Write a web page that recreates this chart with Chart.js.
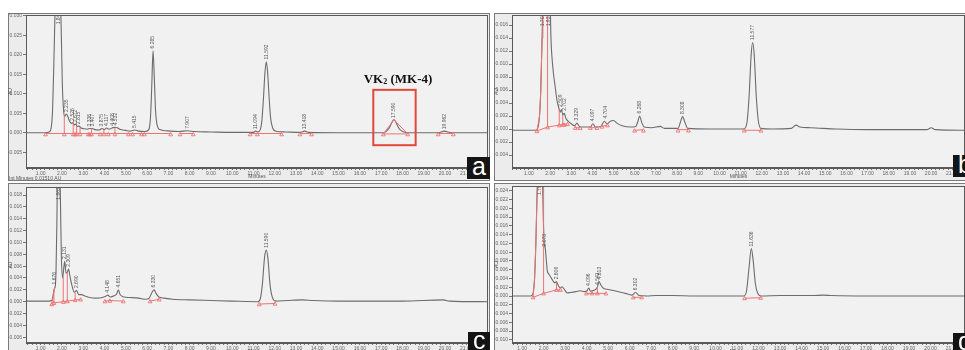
<!DOCTYPE html>
<html><head><meta charset="utf-8">
<script src="https://cdn.jsdelivr.net/npm/chart.js@4.4.1/dist/chart.umd.min.js"></script>
<style>
html,body{margin:0;padding:0;background:#fff;}
body{position:relative;width:965px;height:350px;overflow:hidden;}
.panel{position:absolute;background:#ececec;border:1px solid #7a7a7a;box-sizing:border-box;}
canvas{position:absolute;}
.tag{position:absolute;background:#141414;color:#fff;font:25px "Liberation Sans",Arial,sans-serif;line-height:19px;overflow:hidden;z-index:5;padding-left:5px;box-sizing:border-box;}
</style></head><body>
<div class="panel" style="left:8px;top:13px;width:482px;height:168px"></div>
<div class="panel" style="left:494px;top:13px;width:480px;height:168px"></div>
<div class="panel" style="left:8px;top:183px;width:482px;height:175px"></div>
<div class="panel" style="left:494px;top:183px;width:480px;height:175px"></div>
<canvas id="ca" width="498" height="176" style="left:0px;top:5px"></canvas>
<canvas id="cb" width="487" height="176" style="left:486px;top:5px"></canvas>
<canvas id="cc" width="498" height="175" style="left:0px;top:175px"></canvas>
<canvas id="cd" width="487" height="175" style="left:486px;top:175px"></canvas>
<div class="tag" style="left:467px;top:157px;width:23px;height:22px">a</div>
<div class="tag" style="left:953px;top:155px;width:20px;height:22px">b</div>
<div class="tag" style="left:468px;top:332px;width:22px;height:20px;line-height:17px">c</div>
<div class="tag" style="left:953px;top:333px;width:20px;height:20px;line-height:17px">d</div>
<script>
// ---------------- shared tick labels ----------------
const xMajorTicks = [1,2,3,4,5,6,7,8,9,10,11,12,13,14,15,16,17,18,19,20,21];
const yTicksA = [-0.005,0.000,0.005,0.010,0.015,0.020,0.025,0.030];
const yTicksB = [-0.004,-0.002,0.000,0.002,0.004,0.006,0.008,0.010,0.012,0.014,0.016];
const yTicksC = [-0.006,-0.004,-0.002,0.000,0.002,0.004,0.006,0.008,0.010,0.012,0.014,0.016,0.018];
const yTicksD = [-0.010,-0.008,-0.006,-0.004,-0.002,0.000,0.002,0.004,0.006,0.008,0.010,0.012,0.014,0.016,0.018,0.020,0.022,0.024];

// ---------------- panel a ----------------
const traceA = [[0.31,0.0000],[1.20,0.0000],[1.40,0.0002],[1.50,0.0015],[1.56,0.0060],[1.62,0.0180],[1.67,0.0300],[1.72,0.0380],[1.82,0.0400],[1.92,0.0360],[1.97,0.0250],[2.02,0.0120],[2.08,0.0055],[2.13,0.0042],[2.20,0.0048],[2.26,0.0044],[2.35,0.0030],[2.45,0.0024],[2.52,0.0026],[2.58,0.0020],[2.65,0.0022],[2.72,0.0016],[2.80,0.0017],[2.90,0.0012],[3.05,0.0010],[3.20,0.0009],[3.32,0.0011],[3.42,0.0011],[3.55,0.0008],[3.75,0.0007],[3.88,0.0011],[3.98,0.0008],[4.10,0.0012],[4.20,0.0009],[4.40,0.0013],[4.52,0.0014],[4.62,0.0012],[4.75,0.0008],[5.00,0.0006],[5.20,0.0004],[5.42,0.0007],[5.60,0.0004],[5.90,0.0003],[6.08,0.0008],[6.16,0.0040],[6.22,0.0120],[6.28,0.0210],[6.34,0.0140],[6.40,0.0055],[6.48,0.0018],[6.60,0.0008],[6.90,0.0005],[7.50,0.0003],[7.90,0.0005],[8.20,0.0003],[9.00,0.0002],[10.00,0.0001],[11.00,0.0001],[11.10,0.0004],[11.20,0.0002],[11.32,0.0008],[11.40,0.0035],[11.47,0.0090],[11.54,0.0155],[11.60,0.0182],[11.66,0.0158],[11.73,0.0095],[11.80,0.0040],[11.90,0.0012],[12.05,0.0004],[12.50,0.0002],[13.20,0.0001],[13.40,0.0004],[13.60,0.0001],[15.00,0.0000],[17.10,0.0000],[17.35,0.0010],[17.60,0.0033],[17.85,0.0010],[18.25,0.0000],[19.70,0.0000],[19.96,0.0004],[20.30,0.0000],[22.02,0.0000]];
const redPeakA = [[[17.10,-0.0003],[17.60,0.0033],[18.25,-0.0003]]];
const baseA = [[1.23,-0.0002,7.11,-0.0002],[7.55,-0.0002,8.17,-0.0002],[10.84,-0.0002,12.32,-0.0002],[13.18,-0.0002,13.73,-0.0002],[17.10,-0.0003,18.25,-0.0003],[19.68,-0.0002,20.39,-0.0002]];
const dropA = [[2.11,-0.0002,0.0045],[2.53,-0.0002,0.0026],[2.69,-0.0002,0.0017],[2.85,-0.0002,0.0014],[3.39,-0.0002,0.0011],[3.97,-0.0002,0.0009],[4.49,-0.0002,0.0013]];
const triTimesA = [1.23,2.11,2.53,2.62,2.69,2.85,3.24,3.30,3.39,3.79,3.97,4.18,4.49,5.12,5.32,5.74,5.87,7.11,7.55,8.17,10.84,11.18,12.32,13.18,13.73,17.10,18.25,19.68,20.39];
const triLevelA = -0.0005;
const labelsA = [[1.82,0.0278,'1.843'],[2.20,0.0053,'2.235'],[2.52,0.0031,'2.526'],[2.65,0.0027,'2.672'],[2.80,0.0022,'2.815'],[3.32,0.0016,'3.336'],[3.42,0.0016,'3.407'],[3.88,0.0016,'3.875'],[4.10,0.0017,'4.117'],[4.40,0.0018,'4.408'],[4.52,0.0019,'4.532'],[5.42,0.0012,'5.415'],[6.28,0.0216,'6.285'],[7.90,0.0010,'7.907'],[11.10,0.0009,'11.094'],[11.60,0.0188,'11.592'],[13.40,0.0009,'13.418'],[17.60,0.0038,'17.590'],[19.96,0.0009,'19.962']];
const vkBoxA = [16.63,18.62,-0.0032,0.0110];
const vkTextA = [17.79,0.0128];

// ---------------- panel b ----------------
const traceB = [[0.20,-0.0002],[1.30,-0.0002],[1.40,0.0000],[1.50,0.0020],[1.56,0.0060],[1.62,0.0140],[1.66,0.0200],[1.72,0.0240],[1.80,0.0220],[1.88,0.0190],[1.94,0.0260],[2.00,0.0200],[2.04,0.0140],[2.09,0.0110],[2.16,0.0085],[2.24,0.0065],[2.32,0.0045],[2.40,0.0034],[2.48,0.0026],[2.53,0.0030],[2.60,0.0022],[2.67,0.0024],[2.75,0.0016],[2.85,0.0012],[3.00,0.0008],[3.15,0.0005],[3.27,0.0009],[3.38,0.0004],[3.60,0.0003],[3.90,0.0003],[4.02,0.0008],[4.15,0.0003],[4.40,0.0004],[4.56,0.0012],[4.70,0.0008],[4.85,0.0012],[5.00,0.0013],[5.15,0.0009],[5.40,0.0005],[5.80,0.0003],[6.05,0.0004],[6.15,0.0012],[6.23,0.0020],[6.32,0.0011],[6.45,0.0003],[6.80,0.0002],[7.20,0.0004],[7.40,0.0001],[8.05,0.0001],[8.15,0.0010],[8.26,0.0019],[8.37,0.0010],[8.50,0.0001],[9.50,0.0000],[11.15,0.0000],[11.30,0.0010],[11.40,0.0050],[11.50,0.0115],[11.57,0.0133],[11.64,0.0115],[11.74,0.0050],[11.84,0.0012],[11.96,0.0001],[12.50,0.0000],[13.40,0.0001],[13.62,0.0006],[13.80,0.0003],[14.30,0.0002],[15.50,0.0000],[17.00,-0.0001],[19.80,-0.0001],[20.00,0.0002],[20.20,-0.0001],[21.60,-0.0002]];
const redPeakB = [[[1.38,-0.0003],[1.50,0.0020],[1.56,0.0060],[1.62,0.0140],[1.66,0.0200]]];
const baseB = [[1.38,-0.0003,1.88,0.0003],[1.88,0.0003,2.82,0.0008],[3.19,0.0002,3.42,0.0002],[3.90,0.0002,4.21,0.0002],[4.45,0.0004,4.71,0.0006],[5.99,-0.0002,6.41,-0.0001],[8.04,-0.0001,8.54,-0.0001],[11.17,-0.0002,11.96,-0.0002]];
const dropB = [[1.88,0.0003,0.0190],[2.43,0.0006,0.0031],[2.60,0.0007,0.0022]];
const triB = [[1.38,-0.0004],[1.88,0.0002],[2.43,0.0005],[2.60,0.0006],[2.67,0.0006],[2.82,0.0007],[3.19,0.0001],[3.42,0.0001],[3.90,0.0001],[4.21,0.0001],[4.45,0.0003],[4.71,0.0005],[5.99,-0.0003],[6.41,-0.0003],[8.04,-0.0003],[8.54,-0.0003],[11.17,-0.0003],[11.96,-0.0003]];
const labelsB = [[1.66,0.0158,'1.708'],[1.94,0.0158,'1.937'],[2.50,0.0034,'2.509'],[2.67,0.0028,'2.702'],[3.27,0.0013,'3.329'],[4.02,0.0012,'4.097'],[4.60,0.0016,'4.704'],[6.23,0.0024,'6.268'],[8.26,0.0023,'8.308'],[11.57,0.0137,'11.577']];

// ---------------- panel c ----------------
const traceC = [[0.31,0.0001],[1.40,0.0001],[1.52,0.0002],[1.58,0.0010],[1.64,0.0022],[1.68,0.0025],[1.72,0.0050],[1.76,0.0130],[1.80,0.0250],[1.86,0.0300],[1.92,0.0190],[1.97,0.0080],[2.03,0.0040],[2.08,0.0055],[2.13,0.0068],[2.19,0.0048],[2.26,0.0050],[2.31,0.0055],[2.38,0.0042],[2.48,0.0026],[2.58,0.0016],[2.69,0.0019],[2.78,0.0012],[2.92,0.0012],[3.05,0.0010],[3.30,0.0007],[3.60,0.0006],[3.90,0.0007],[4.05,0.0009],[4.15,0.0011],[4.28,0.0008],[4.45,0.0010],[4.57,0.0013],[4.65,0.0020],[4.73,0.0012],[4.90,0.0008],[5.20,0.0007],[5.60,0.0006],[5.95,0.0004],[6.10,0.0006],[6.25,0.0017],[6.33,0.0020],[6.42,0.0014],[6.55,0.0008],[6.80,0.0006],[7.20,0.0004],[8.00,0.0003],[9.00,0.0002],[10.00,0.0001],[11.20,0.0000],[11.32,0.0005],[11.42,0.0030],[11.52,0.0075],[11.60,0.0087],[11.68,0.0072],[11.78,0.0028],[11.90,0.0006],[12.05,0.0001],[12.60,0.0002],[13.30,0.0003],[13.80,0.0002],[15.00,0.0001],[18.00,0.0001],[19.92,0.0003],[20.20,0.0001],[22.02,0.0000]];
const redPeakC = [[[1.52,-0.0004],[1.60,0.0012],[1.67,0.0025]]];
const baseC = [[1.52,-0.0004,1.62,-0.0002],[1.62,-0.0002,2.88,0.0004],[4.02,0.0001,4.25,0.0002],[4.25,0.0002,4.88,0.0001],[6.14,0.0001,6.57,0.0004],[11.27,-0.0004,12.01,-0.0003]];
const dropC = [[1.62,-0.0002,0.0020],[2.06,0.0000,0.0042],[2.25,0.0001,0.0049],[2.62,0.0003,0.0016]];
const triC = [[1.52,-0.0005],[1.62,-0.0003],[2.06,-0.0001],[2.25,0.0000],[2.62,0.0002],[2.88,0.0003],[4.02,0.0000],[4.25,0.0001],[4.88,0.0000],[6.14,0.0000],[6.57,0.0003],[11.27,-0.0005],[12.01,-0.0004]];
const labelsC = [[1.67,0.0029,'1.676'],[1.86,0.0172,'1.862'],[2.13,0.0072,'2.131'],[2.31,0.0059,'2.309'],[2.69,0.0023,'2.690'],[4.15,0.0015,'4.148'],[4.65,0.0024,'4.651'],[6.33,0.0024,'6.330'],[11.60,0.0091,'11.590']];

// ---------------- panel d ----------------
const traceD = [[0.53,0.0000],[1.40,0.0000],[1.50,0.0005],[1.58,0.0040],[1.64,0.0120],[1.70,0.0240],[1.76,0.0320],[1.86,0.0330],[1.94,0.0280],[1.99,0.0170],[2.03,0.0120],[2.08,0.0108],[2.12,0.0085],[2.17,0.0058],[2.24,0.0050],[2.32,0.0044],[2.42,0.0036],[2.52,0.0030],[2.60,0.0033],[2.68,0.0024],[2.78,0.0018],[2.86,0.0021],[2.95,0.0016],[3.10,0.0007],[3.25,0.0008],[3.50,0.0010],[3.70,0.0012],[3.90,0.0010],[4.02,0.0012],[4.10,0.0018],[4.18,0.0011],[4.35,0.0013],[4.50,0.0020],[4.58,0.0033],[4.66,0.0025],[4.80,0.0017],[5.00,0.0015],[5.40,0.0011],[5.80,0.0006],[6.10,0.0002],[6.28,0.0008],[6.45,0.0001],[6.80,0.0000],[7.20,0.0001],[8.00,0.0001],[9.00,0.0000],[11.32,0.0000],[11.44,0.0012],[11.55,0.0062],[11.66,0.0108],[11.75,0.0080],[11.85,0.0028],[11.97,0.0005],[12.12,0.0000],[13.00,0.0001],[14.50,0.0001],[15.00,0.0002],[15.40,0.0001],[17.00,0.0000],[21.60,0.0000]];
const redPeakD = [[[1.51,-0.0003],[1.58,0.0040],[1.64,0.0120],[1.70,0.0240],[1.73,0.0300]]];
const baseD = [[1.51,-0.0003,2.00,0.0006],[2.00,0.0006,2.60,0.0014],[2.60,0.0014,2.78,0.0014],[3.99,0.0006,4.90,0.0006],[6.17,-0.0003,6.56,-0.0003],[11.35,-0.0005,12.10,-0.0004]];
const dropD = [[2.00,0.0006,0.0300],[2.60,0.0014,0.0033],[4.25,0.0006,0.0012],[4.50,0.0006,0.0020]];
const triD = [[1.51,-0.0004],[2.00,0.0005],[2.60,0.0013],[2.78,0.0013],[3.99,0.0005],[4.25,0.0005],[4.50,0.0005],[4.90,0.0005],[6.17,-0.0004],[6.56,-0.0004],[11.35,-0.0006],[12.10,-0.0005]];
const labelsD = [[1.80,0.0230,'1.790'],[2.07,0.0113,'2.073'],[2.60,0.0038,'2.606'],[4.10,0.0023,'4.096'],[4.53,0.0025,'4.541'],[4.60,0.0038,'4.613'],[6.28,0.0013,'6.302'],[11.66,0.0113,'11.636']];

// ---------------- helpers ----------------
const RED = '#ef7373';
const TRACE = '#6c6c6c';
const FONT = '"Liberation Sans", Arial, sans-serif';

function toPts(arr){ return arr.map(p => ({x:p[0], y:p[1]})); }
function segs(list){ const out=[]; list.forEach(s=>{ out.push({x:s[0],y:s[1]},{x:s[2],y:s[3]},{x:s[2],y:null}); }); return out; }
function drops(list){ const out=[]; list.forEach(d=>{ out.push({x:d[0],y:d[1]},{x:d[0],y:d[2]},{x:d[0],y:null}); }); return out; }
function polys(list){ const out=[]; list.forEach(p=>{ p.forEach(q=>out.push({x:q[0],y:q[1]})); out.push({x:p[p.length-1][0],y:null}); }); return out; }

function build(id, P){
  const deco = {
    id: 'deco_'+id,
    beforeDraw(chart){
      const {ctx, chartArea:a} = chart;
      ctx.save(); ctx.fillStyle = '#f1f1f1';
      ctx.fillRect(a.left, a.top, a.right-a.left, a.bottom-a.top); ctx.restore();
    },
    afterDraw(chart){
      const {ctx, chartArea:a} = chart;
      const xs = chart.scales.x, ys = chart.scales.y;
      ctx.save();
      ctx.strokeStyle = '#5a5a5a'; ctx.lineWidth = 1;
      ctx.strokeRect(Math.round(a.left)+0.5, Math.round(a.top)+0.5, Math.round(a.right-a.left)-1, Math.round(a.bottom-a.top)-1);
      // peak labels
      ctx.beginPath(); ctx.rect(a.left, a.top, a.right-a.left, a.bottom-a.top); ctx.clip();
      ctx.fillStyle = '#5a5a5a'; ctx.font = '5px '+FONT; ctx.textAlign='left'; ctx.textBaseline='middle';
      P.labels.forEach(l => {
        const px = xs.getPixelForValue(l[0]), py = ys.getPixelForValue(l[1]);
        ctx.save(); ctx.translate(px, py); ctx.rotate(-Math.PI/2); ctx.fillText(l[2], 0, 0); ctx.restore();
      });
      ctx.restore();
      // axis titles
      ctx.save();
      ctx.fillStyle = '#555'; ctx.font = '5px '+FONT; ctx.textAlign='center'; ctx.textBaseline='middle';
      ctx.save(); ctx.translate(a.left-15, (a.top+a.bottom)/2); ctx.rotate(-Math.PI/2); ctx.fillText('AU',0,0); ctx.restore();
      ctx.fillText('Minutes', (a.left+a.right)/2, a.bottom+9);
      if (P.foot){ ctx.textAlign='left'; ctx.fillText(P.foot, a.left-17, a.bottom+11); }
      ctx.restore();
      // VK2 annotation
      if (P.vkBox){
        const b = P.vkBox;
        const x0 = xs.getPixelForValue(b[0]), x1 = xs.getPixelForValue(b[1]);
        const y0 = ys.getPixelForValue(b[3]), y1 = ys.getPixelForValue(b[2]);
        ctx.save(); ctx.strokeStyle = '#e2473b'; ctx.lineWidth = 2;
        ctx.strokeRect(x0, y0, x1-x0, y1-y0);
        const cx = xs.getPixelForValue(P.vkText[0]), by = ys.getPixelForValue(P.vkText[1]);
        const big = 'bold 13px "Liberation Serif", "Times New Roman", serif';
        const small = 'bold 8px "Liberation Serif", "Times New Roman", serif';
        ctx.font = big; const w1 = ctx.measureText('VK').width; const w3 = ctx.measureText(' (MK-4)').width;
        ctx.font = small; const w2 = ctx.measureText('2').width;
        let x = cx - (w1+w2+w3)/2;
        ctx.fillStyle = '#111'; ctx.textBaseline = 'alphabetic'; ctx.textAlign='left';
        ctx.font = big; ctx.fillText('VK', x, by); x += w1;
        ctx.font = small; ctx.fillText('2', x, by+1.5); x += w2;
        ctx.font = big; ctx.fillText(' (MK-4)', x, by);
        ctx.restore();
      }
    }
  };
  const redLine = {borderColor:RED, borderWidth:1, pointRadius:0, tension:0, spanGaps:false, fill:false};
  new Chart(document.getElementById(id), {
    type:'line',
    data:{datasets:[
      Object.assign({data: polys(P.redPeak)}, redLine),
      Object.assign({data: segs(P.base)}, redLine),
      Object.assign({data: drops(P.drop)}, redLine),
      {data: toPts(P.tri), showLine:false, pointStyle:'triangle', pointRadius:2.2, pointBorderWidth:0.9, pointBorderColor:RED, pointBackgroundColor:'rgba(0,0,0,0)', borderColor:RED},
      {data: toPts(P.trace), borderColor:TRACE, borderWidth:1.1, pointRadius:0, cubicInterpolationMode:'monotone', fill:false}
    ]},
    options:{
      responsive:false, animation:false, devicePixelRatio:1, events:[],
      layout:{padding:{left:0, top:P.padT, right:P.padR, bottom:0}},
      plugins:{legend:{display:false}, tooltip:{enabled:false}},
      scales:{
        x:{type:'linear', min:P.xMin, max:P.xMax,
          afterFit(s){ s.height = P.xH; },
          afterBuildTicks(s){ const t=[]; for(let k=Math.ceil(P.xMin*5); k<=Math.floor(P.xMax*5); k++) t.push({value:k/5}); s.ticks=t; },
          ticks:{autoSkip:false, maxRotation:0, minRotation:0, padding:1, color:'#666', font:{size:5, family:FONT},
            callback(v){ const k=Math.round(v*5); return (k%5===0 && xMajorTicks.includes(k/5)) ? (k/5).toFixed(2) : ''; }},
          grid:{drawOnChartArea:false, tickLength:2, color:'#777'},
          border:{color:'#5a5a5a'}},
        y:{type:'linear', min:P.yMin, max:P.yMax,
          afterFit(s){ s.width = P.yW; },
          afterBuildTicks(s){ s.ticks = P.yTicks.map(v=>({value:v})); },
          ticks:{autoSkip:false, padding:1, color:'#666', font:{size:5, family:FONT}, callback(v){ return v.toFixed(3); }},
          grid:{drawOnChartArea:false, tickLength:3, color:'#777'},
          border:{color:'#5a5a5a'}}
      }
    },
    plugins:[deco]
  });
}

build('ca', {trace:traceA, redPeak:redPeakA, base:baseA, drop:dropA, tri:triTimesA.map(t=>[t,triLevelA]), labels:labelsA,
  xMin:0.31, xMax:22.02, yMin:-0.00905, yMax:0.0302, yTicks:yTicksA, padT:10, padR:10, yW:26, xH:13,
  vkBox:vkBoxA, vkText:vkTextA, foot:'Int Minutes 0.01510 AU'});
build('cb', {trace:traceB, redPeak:redPeakB, base:baseB, drop:dropB, tri:triB, labels:labelsB,
  xMin:0.20, xMax:21.60, yMin:-0.0060, yMax:0.01754, yTicks:yTicksB, padT:10, padR:8, yW:26, xH:13});
build('cc', {trace:traceC, redPeak:redPeakC, base:baseC, drop:dropC, tri:triC, labels:labelsC,
  xMin:0.31, xMax:22.02, yMin:-0.00697, yMax:0.01935, yTicks:yTicksC, padT:12, padR:10, yW:26, xH:7});
build('cd', {trace:traceD, redPeak:redPeakD, base:baseD, drop:dropD, tri:triD, labels:labelsD,
  xMin:0.53, xMax:21.60, yMin:-0.01071, yMax:0.02507, yTicks:yTicksD, padT:11, padR:8, yW:26, xH:7});
</script>
</body></html>
